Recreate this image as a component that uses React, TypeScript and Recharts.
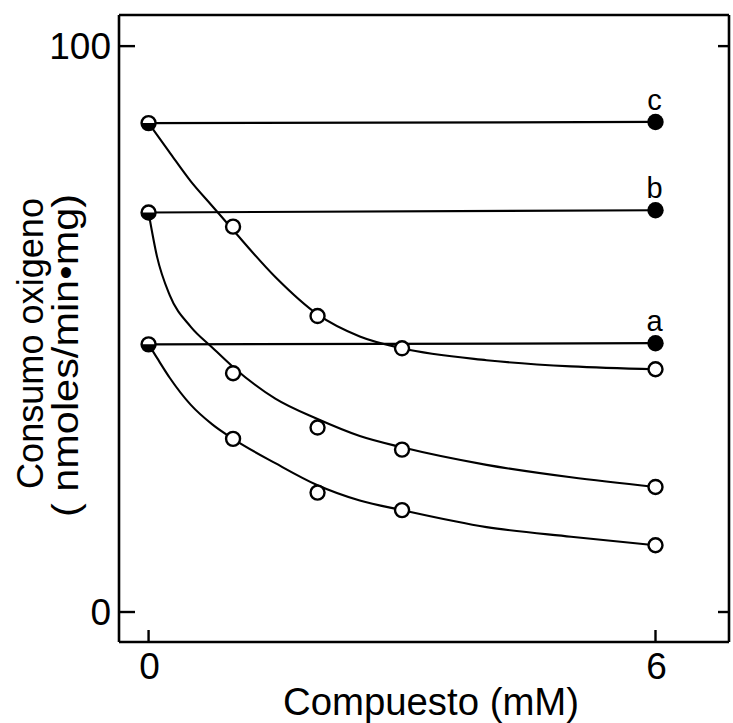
import React from "react";
import { ComposedChart, Line, XAxis, YAxis, ReferenceLine, LabelList, Label } from "recharts";

// Axes
const X_TICKS = [0, 6];
const Y_TICKS = [0, 100];
const X_DOMAIN = [-0.35, 6.87];
const Y_DOMAIN = [-5.3, 105.5];

// Control experiments (horizontal lines a, b, c)
const CONTROL_X = [0, 6];
const CONTROL_C = [86.4, 86.6];
const CONTROL_B = [70.6, 71.0];
const CONTROL_A = [47.3, 47.5];
const CONTROL_NAMES = ["c", "b", "a"];

// Measured points with compound (open circles)
const POINT_X = [1, 2, 3, 6];
const POINTS_C = [68.1, 52.3, 46.6, 42.9];
const POINTS_B = [42.2, 32.6, 28.7, 22.1];
const POINTS_A = [30.6, 21.1, 18.0, 11.8];

// Fitted curves as drawn in the figure
const FIT_X = [0, 0.1, 0.25, 0.5, 0.75, 1, 1.5, 2, 2.5, 3, 4, 5, 6];
const FIT_C = [86.4, 84.3, 81.2, 76.1, 71.8, 67.5, 59.2, 52.6, 48.7, 46.6, 44.5, 43.4, 42.9];
const FIT_B = [70.6, 62.8, 56.0, 50.4, 46.8, 43.3, 37.7, 34.1, 31.1, 29.1, 26.0, 23.8, 22.1];
const FIT_A = [47.3, 44.9, 41.4, 36.6, 33.2, 30.6, 26.3, 22.4, 19.7, 18.0, 15.0, 13.3, 11.8];

const X_TITLE = "Compuesto (mM)";
const Y_TITLE_1 = "Consumo oxigeno";
const Y_TITLE_2 = "( nmoles/min\u2022mg)";

const FONT = "'Liberation Sans', Arial, sans-serif";
const INK = "#000";

const rows = (xs: number[], ys: number[], name = "") =>
  xs.map((x, i) => ({ x, y: ys[i], lab: i === xs.length - 1 ? name : "" }));

const controlC = rows(CONTROL_X, CONTROL_C, CONTROL_NAMES[0]);
const controlB = rows(CONTROL_X, CONTROL_B, CONTROL_NAMES[1]);
const controlA = rows(CONTROL_X, CONTROL_A, CONTROL_NAMES[2]);
const pointsC = rows(POINT_X, POINTS_C);
const pointsB = rows(POINT_X, POINTS_B);
const pointsA = rows(POINT_X, POINTS_A);
const fitC = rows(FIT_X, FIT_C);
const fitB = rows(FIT_X, FIT_B);
const fitA = rows(FIT_X, FIT_A);

const controlDot = (props: any) => {
  const { cx, cy, index } = props;
  if (cx == null || cy == null) return <g key={`cd-${index}`} />;
  if (index === 0) {
    return (
      <g key={`cd-${index}-${cy}`}>
        <circle cx={cx} cy={cy} r={7} fill="#fff" stroke={INK} strokeWidth={2.4} />
        <path d={`M ${cx - 7} ${cy} A 7 7 0 0 0 ${cx + 7} ${cy} Z`} fill={INK} />
      </g>
    );
  }
  return <circle key={`cd-${index}-${cy}`} cx={cx} cy={cy} r={8.2} fill={INK} />;
};

const openDot = (props: any) => {
  const { cx, cy, index } = props;
  if (cx == null || cy == null) return <g key={`od-${index}`} />;
  return <circle key={`od-${index}-${cy}`} cx={cx} cy={cy} r={7} fill="#fff" stroke={INK} strokeWidth={2.4} />;
};

const letterLabel = (props: any) => {
  const { x, y, value, index } = props;
  if (!value) return <g key={`ll-${index}`} />;
  return (
    <text key={`ll-${index}`} x={x - 1} y={y - 12} textAnchor="middle" fontFamily={FONT} fontSize={29} fill={INK}>
      {value}
    </text>
  );
};

const LeftTick = (props: any) => {
  const { x, y, payload } = props;
  return (
    <g>
      <line x1={x} x2={x + 16} y1={y} y2={y} stroke={INK} strokeWidth={2.4} />
      <text x={x - 8} y={y + 13.3} textAnchor="end" fontFamily={FONT} fontSize={37} fill={INK}>
        {payload.value}
      </text>
    </g>
  );
};

const RightTick = (props: any) => {
  const { x, y } = props;
  return <line x1={x} x2={x - 11} y1={y} y2={y} stroke={INK} strokeWidth={2.4} />;
};

const BottomTick = (props: any) => {
  const { x, y, payload } = props;
  return (
    <g>
      <line x1={x} x2={x} y1={y} y2={y - 12} stroke={INK} strokeWidth={2.4} />
      <text x={x + 1} y={y + 37} textAnchor="middle" fontFamily={FONT} fontSize={37} fill={INK}>
        {payload.value}
      </text>
    </g>
  );
};

const XTitle = (props: any) => {
  const vb = props.viewBox || { x: 119, y: 642, width: 610, height: 81 };
  return (
    <text
      x={vb.x + vb.width / 2 + 7}
      y={vb.y + 73}
      textAnchor="middle"
      fontFamily={FONT}
      fontSize={38}
      fill={INK}
      textLength={296}
      lengthAdjust="spacingAndGlyphs"
    >
      {X_TITLE}
    </text>
  );
};

const YTitle = (props: any) => {
  const vb = props.viewBox || { x: 0, y: 15, width: 119, height: 627 };
  const cy = vb.y + vb.height / 2;
  const x1 = vb.x + 43;
  const y1 = cy + 15;
  const x2 = vb.x + 78;
  const y2 = cy + 27;
  return (
    <g>
      <text
        x={x1}
        y={y1}
        transform={`rotate(-90, ${x1}, ${y1})`}
        textAnchor="middle"
        fontFamily={FONT}
        fontSize={36}
        fill={INK}
        textLength={291}
        lengthAdjust="spacingAndGlyphs"
      >
        {Y_TITLE_1}
      </text>
      <text
        x={x2}
        y={y2}
        transform={`rotate(-90, ${x2}, ${y2})`}
        textAnchor="middle"
        fontFamily={FONT}
        fontSize={36}
        fill={INK}
        textLength={323}
        lengthAdjust="spacingAndGlyphs"
      >
        {Y_TITLE_2}
      </text>
    </g>
  );
};

export default function App() {
  return (
    <div style={{ position: "absolute", left: 0, top: 0, width: 733, height: 723, background: "#fff" }}>
      <ComposedChart width={733} height={723} margin={{ top: 15, right: 0, bottom: 0, left: 0 }}>
        <XAxis
          type="number"
          dataKey="x"
          domain={X_DOMAIN}
          ticks={X_TICKS}
          allowDataOverflow
          height={81}
          tickSize={0}
          tickMargin={0}
          tickLine={false}
          axisLine={{ stroke: INK, strokeWidth: 2.6 }}
          tick={<BottomTick />}
        >
          <Label content={<XTitle />} />
        </XAxis>
        <YAxis
          type="number"
          domain={Y_DOMAIN}
          ticks={Y_TICKS}
          allowDataOverflow
          width={119}
          tickSize={0}
          tickMargin={0}
          tickLine={false}
          axisLine={{ stroke: INK, strokeWidth: 2.6 }}
          tick={<LeftTick />}
        >
          <Label content={<YTitle />} />
        </YAxis>
        <YAxis
          yAxisId="r"
          orientation="right"
          type="number"
          domain={Y_DOMAIN}
          ticks={Y_TICKS}
          allowDataOverflow
          width={4}
          tickSize={0}
          tickMargin={0}
          tickLine={false}
          axisLine={{ stroke: INK, strokeWidth: 2.6 }}
          tick={<RightTick />}
        />
        <ReferenceLine y={Y_DOMAIN[1]} stroke={INK} strokeWidth={2.6} ifOverflow="visible" />

        <Line data={fitC} dataKey="y" type="monotone" stroke={INK} strokeWidth={2.1} dot={false} isAnimationActive={false} />
        <Line data={fitB} dataKey="y" type="monotone" stroke={INK} strokeWidth={2.1} dot={false} isAnimationActive={false} />
        <Line data={fitA} dataKey="y" type="monotone" stroke={INK} strokeWidth={2.1} dot={false} isAnimationActive={false} />

        <Line data={controlC} dataKey="y" type="linear" stroke={INK} strokeWidth={2.2} dot={controlDot} isAnimationActive={false}>
          <LabelList dataKey="lab" content={letterLabel} />
        </Line>
        <Line data={controlB} dataKey="y" type="linear" stroke={INK} strokeWidth={2.2} dot={controlDot} isAnimationActive={false}>
          <LabelList dataKey="lab" content={letterLabel} />
        </Line>
        <Line data={controlA} dataKey="y" type="linear" stroke={INK} strokeWidth={2.2} dot={controlDot} isAnimationActive={false}>
          <LabelList dataKey="lab" content={letterLabel} />
        </Line>

        <Line data={pointsC} dataKey="y" stroke="none" dot={openDot} isAnimationActive={false} />
        <Line data={pointsB} dataKey="y" stroke="none" dot={openDot} isAnimationActive={false} />
        <Line data={pointsA} dataKey="y" stroke="none" dot={openDot} isAnimationActive={false} />
      </ComposedChart>
    </div>
  );
}
